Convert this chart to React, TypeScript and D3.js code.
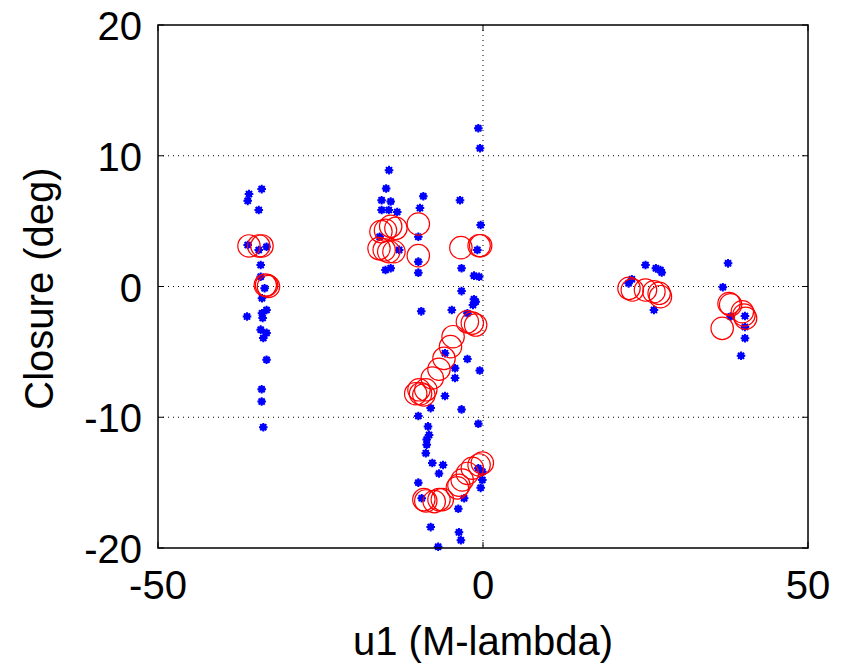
import React from "react";
import * as d3 from "d3";

const xTicks = [-50, 0, 50];
const yTicks = [-20, -10, 0, 10, 20];

// blue measured closure points [u1, closure]
const measuredU = [
  -34.05, -36.0, -36.2, -34.5, -36.2, -33.3, -34.5, -34.2, -34.2, -33.6, -34.0, -33.3, -34.0, -36.3, -33.9, -34.2, -33.3, -33.8, -33.3, -34.05, -34.05, -33.8,
  -14.46, -14.9, -15.6, -14.2, -15.6, -14.5, -13.2, -9.18, -9.7, -9.95, -15.9, -12.9, -9.95, -9.95, -15.0, -14.2, -3.54, -3.3, -3.3, -1.38, -0.6, -0.36, -0.87, -0.72, -0.46, -1.4,
  -1.13, -1.54, -9.5, -4.8, -2.4, -5.85, -2.4, -4.3, -0.5, -4.3, -5.85, -8.05, -3.3, -9.95, -0.72, -8.46, -8.3, -8.66, -8.66, -8.8, -7.8, -6.15, -6.77, -0.72, -0.1, -0.1, -0.36, -9.95, -9.43, -2.9, -3.8, -8.05, -3.7, -3.4, -6.9,
  25.0, 26.6, 27.3, 27.5, 22.9, 22.4, 26.3, 37.7, 36.9, 38.1, 40.3, 40.3, 40.3, 39.7,
];
const measuredC = [
  7.45, 7.07, 6.55, 5.85, 3.17, 3.04, 2.79, 1.64, 0.75, -0.13, -0.9, -1.8, -2.05, -2.3, -2.4, -3.3, -3.55, -3.94, -5.6, -7.86, -8.8, -10.76,
  8.9, 7.5, 6.6, 6.5, 5.85, 5.85, 5.7, 6.9, 6.0, 3.8, 3.8, 2.8, 1.9, 1.06, 1.26, 1.4, 6.6, 1.4, -0.35, 0.83, 0.75, 4.7, 2.8, 12.1, 10.57, -0.98,
  -1.16, -1.41, -1.9, -1.8, -2.05, -5.1, -5.55, -6.25, -6.43, -7.0, -8.37, -9.3, -9.4, -9.9, -10.5, -10.7, -11.35, -11.7, -12.1, -12.75, -13.5, -13.65, -14.3, -13.9, -14.16, -14.8, -15.4, -15.0, -16.2, -16.2, -17.0, -18.4, -18.8, -19.4, -19.9,
  1.64, 1.39, 1.26, 1.08, 0.55, 0.24, -1.8, 1.77, -0.06, -2.3, -2.26, -3.1, -3.96, -5.3,
];

// red model closure circles [u1, closure]
const modelU = [
  -36.0, -34.5, -34.0, -33.5, -33.3, -33.0,
  -15.7, -15.0, -14.2, -13.4, -16.0, -15.2, -14.5, -13.7, -9.95, -9.95, -3.4, -0.6, -0.36,
  -1.64, -1.13, -2.4, -4.6, -5.0, -6.0, -6.77, -7.8, -8.8, -9.85, -9.6, -9.1, -10.35,
  -0.1, -0.6, -1.64, -2.4, -3.2, -3.7, -3.95, -6.26, -6.77, -7.5, -8.8, -9.1,
  22.46, 22.97, 25.0, 26.3, 27.1, 27.3, 37.85, 38.1, 39.9, 40.15, 40.4, 36.8,
];
const modelC = [
  3.1, 3.1, 3.1, 0.1, 0.1, 0.0,
  4.2, 4.3, 4.6, 4.45, 2.9, 2.8, 2.66, 2.66, 4.78, 2.36, 2.97, 3.12, 3.12,
  -2.8, -2.95, -2.7, -3.84, -4.6, -5.5, -6.33, -7.0, -7.9, -7.9, -8.2, -8.3, -8.2,
  -13.5, -13.65, -13.9, -14.3, -14.8, -15.2, -15.4, -16.3, -16.3, -16.45, -16.4, -16.3,
  -0.14, -0.27, -0.27, -0.4, -0.52, -0.78, -1.3, -1.4, -1.93, -2.18, -2.43, -3.2,
];

// asterisk-like blob marker path centered at 0,0
const starPath = (() => {
  const p = d3.path();
  for (let k = 0; k < 8; k++) {
    const a = (k * Math.PI) / 4;
    p.moveTo(0, 0);
    p.lineTo(4.3 * Math.cos(a), 4.3 * Math.sin(a));
  }
  return p.toString();
})();

export default function App() {
  const W = 850, H = 667;
  const left = 158, right = 808, top = 25, bottom = 548;
  const x = d3.scaleLinear().domain([-50, 50]).range([left, right]);
  const y = d3.scaleLinear().domain([-20, 20]).range([bottom, top]);
  const font = "'Liberation Sans', Arial, sans-serif";
  const fs = 40;
  const tick = 6;
  return (
    <svg width={W} height={H} style={{ position: "absolute", left: 0, top: 0, background: "#fff" }}>
      <rect x={0} y={0} width={W} height={H} fill="#fff" />
      {/* grid */}
      {[-10, 0, 10].map((v) => (
        <line key={"gy" + v} x1={left} x2={right} y1={y(v)} y2={y(v)} stroke="#000" strokeWidth={1} strokeDasharray="1,4" />
      ))}
      <line x1={x(0)} x2={x(0)} y1={top} y2={bottom} stroke="#000" strokeWidth={1} strokeDasharray="1,4" />
      {/* ticks */}
      {xTicks.map((v) => (
        <g key={"xt" + v}>
          <line x1={x(v)} x2={x(v)} y1={bottom} y2={bottom - tick} stroke="#000" />
          <line x1={x(v)} x2={x(v)} y1={top} y2={top + tick} stroke="#000" />
          <text x={x(v)} y={bottom + 51} textAnchor="middle" fontFamily={font} fontSize={fs}>{v}</text>
        </g>
      ))}
      {yTicks.map((v) => (
        <g key={"yt" + v}>
          <line x1={left} x2={left + tick} y1={y(v)} y2={y(v)} stroke="#000" />
          <line x1={right} x2={right - tick} y1={y(v)} y2={y(v)} stroke="#000" />
          <text x={left - 16} y={y(v) + 15} textAnchor="end" fontFamily={font} fontSize={fs}>{v}</text>
        </g>
      ))}
      {/* measured points */}
      {measuredU.map((u, i) => (
        <g key={"m" + i} transform={`translate(${x(u)},${y(measuredC[i])})`}>
          <circle r={3.3} fill="#0000ff" />
          <path d={starPath} stroke="#0000ff" strokeWidth={2} fill="none" />
        </g>
      ))}
      {/* model circles */}
      {modelU.map((u, i) => (
        <circle key={"c" + i} cx={x(u)} cy={y(modelC[i])} r={11.2} fill="none" stroke="#ff0000" strokeWidth={1.2} />
      ))}
      {/* box */}
      <rect x={left} y={top} width={right - left} height={bottom - top} fill="none" stroke="#000" strokeWidth={1.5} />
      {/* labels */}
      <text x={(left + right) / 2} y={655} textAnchor="middle" fontFamily={font} fontSize={fs}>u1 (M-lambda)</text>
      <text transform={`translate(53,${(top + bottom) / 2 + 2}) rotate(-90)`} textAnchor="middle" fontFamily={font} fontSize={fs}>Closure (deg)</text>
    </svg>
  );
}
